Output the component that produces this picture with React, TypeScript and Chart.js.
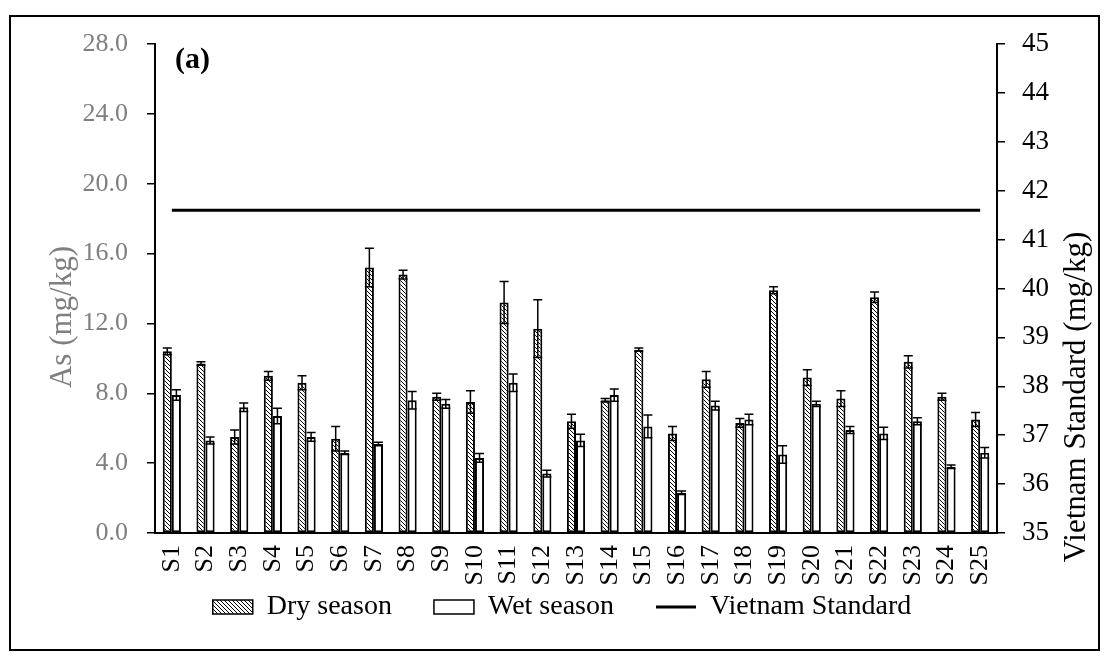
import React, { useEffect, useRef } from "react";
import { Chart, registerables } from "chart.js";

Chart.register(...registerables);

// Sampling sites
const categories = [
  "S1", "S2", "S3", "S4", "S5", "S6", "S7", "S8", "S9", "S10",
  "S11", "S12", "S13", "S14", "S15", "S16", "S17", "S18", "S19", "S20",
  "S21", "S22", "S23", "S24", "S25",
];

// Arsenic in sediment, mg/kg (mean and error)
const drySeason = [
  10.4, 9.7, 5.5, 9.0, 8.6, 5.4, 15.2, 14.8, 7.8, 7.5,
  13.2, 11.7, 6.4, 7.6, 10.5, 5.7, 8.8, 6.3, 13.9, 8.9,
  7.7, 13.5, 9.8, 7.8, 6.5,
];
const dryError = [
  0.2, 0.1, 0.4, 0.25, 0.4, 0.7, 1.1, 0.25, 0.2, 0.65,
  1.2, 1.65, 0.4, 0.1, 0.1, 0.4, 0.45, 0.25, 0.2, 0.45,
  0.45, 0.3, 0.35, 0.2, 0.4,
];
const wetSeason = [
  7.9, 5.3, 7.2, 6.7, 5.5, 4.6, 5.1, 7.6, 7.4, 4.3,
  8.6, 3.4, 5.3, 7.9, 6.1, 2.3, 7.3, 6.5, 4.5, 7.4,
  5.9, 5.7, 6.4, 3.8, 4.6,
];
const wetError = [
  0.3, 0.2, 0.25, 0.45, 0.25, 0.1, 0.1, 0.5, 0.25, 0.25,
  0.5, 0.2, 0.35, 0.35, 0.65, 0.1, 0.25, 0.3, 0.5, 0.15,
  0.2, 0.35, 0.2, 0.1, 0.3,
];

// National sediment guideline (right axis), mg/kg
const vietnamStandard = [
  41.6, 41.6, 41.6, 41.6, 41.6, 41.6, 41.6, 41.6, 41.6, 41.6,
  41.6, 41.6, 41.6, 41.6, 41.6, 41.6, 41.6, 41.6, 41.6, 41.6,
  41.6, 41.6, 41.6, 41.6, 41.6,
];

const seriesLabels = ["Dry season", "Wet season", "Vietnam Standard"];
const leftTitle = "As (mg/kg)";
const rightTitle = "Vietnam Standard (mg/kg)";
const panelTag = "(a)";

const FONT = "'Liberation Serif', 'Times New Roman', serif";
const GREY = "#7f7f7f";

function makeHatch(): CanvasPattern | string {
  const c = document.createElement("canvas");
  c.width = 4;
  c.height = 4;
  const g = c.getContext("2d");
  if (!g) return "#888";
  g.fillStyle = "#fff";
  g.fillRect(0, 0, 4, 4);
  g.strokeStyle = "#000";
  g.lineWidth = 1;
  g.beginPath();
  g.moveTo(0, 0);
  g.lineTo(4, 4);
  g.moveTo(-1, 3);
  g.lineTo(1, 5);
  g.moveTo(3, -1);
  g.lineTo(5, 1);
  g.stroke();
  return g.createPattern(c, "repeat") || "#888";
}

// Draws mean ± error whiskers on top of each bar
const errorBarPlugin = {
  id: "errorBars",
  afterDatasetsDraw(chart: any) {
    const ctx = chart.ctx;
    const yScale = chart.scales.y;
    const sets: [number, number[], number[]][] = [
      [0, drySeason, dryError],
      [1, wetSeason, wetError],
    ];
    ctx.save();
    ctx.strokeStyle = "#000";
    ctx.lineWidth = 1.5;
    sets.forEach(([idx, vals, errs]) => {
      const meta = chart.getDatasetMeta(idx);
      meta.data.forEach((bar: any, j: number) => {
        const x = bar.x;
        const top = yScale.getPixelForValue(vals[j] + errs[j]);
        const bot = yScale.getPixelForValue(vals[j] - errs[j]);
        const hw = 4.5;
        ctx.beginPath();
        ctx.moveTo(x, top);
        ctx.lineTo(x, bot);
        ctx.moveTo(x - hw, top);
        ctx.lineTo(x + hw, top);
        ctx.moveTo(x - hw, bot);
        ctx.lineTo(x + hw, bot);
        ctx.stroke();
      });
    });
    ctx.restore();
  },
};

// The legend keeps wide item spacing, which also pads its top; pull it up
const legendLift = {
  id: "legendLift",
  afterLayout(chart: any) {
    const lg = chart.legend;
    if (lg) {
      lg.top -= 40;
      lg.bottom -= 40;
    }
  },
};

// Axis titles (both reading bottom-to-top) and the panel tag
const annotationPlugin = {
  id: "annotations",
  afterDraw(chart: any) {
    const { ctx, chartArea } = chart;
    ctx.save();
    ctx.textAlign = "center";
    ctx.textBaseline = "middle";

    ctx.font = `31px ${FONT}`;
    ctx.fillStyle = GREY;
    ctx.save();
    ctx.translate(chartArea.left - 92, chartArea.top + 273);
    ctx.rotate(-Math.PI / 2);
    ctx.fillText(leftTitle, 0, 0);
    ctx.restore();

    ctx.fillStyle = "#000";
    ctx.save();
    ctx.translate(chartArea.right + 80, chartArea.top + 353);
    ctx.rotate(-Math.PI / 2);
    ctx.fillText(rightTitle, 0, 0);
    ctx.restore();

    ctx.font = `bold 30px ${FONT}`;
    ctx.textAlign = "left";
    ctx.fillText(panelTag, chartArea.left + 20, chartArea.top + 16);
    ctx.restore();
  },
};

export default function App() {
  const canvasRef = useRef<HTMLCanvasElement | null>(null);

  useEffect(() => {
    if (!canvasRef.current) return;
    const hatch = makeHatch();

    const chart = new Chart(canvasRef.current, {
      type: "bar",
      data: {
        labels: categories,
        datasets: [
          {
            label: seriesLabels[0],
            data: drySeason,
            backgroundColor: hatch as any,
            borderColor: "#000",
            borderWidth: 2,
            borderSkipped: false,
            yAxisID: "y",
            categoryPercentage: 0.54,
            barPercentage: 1,
          },
          {
            label: seriesLabels[1],
            data: wetSeason,
            backgroundColor: "#fff",
            borderColor: "#000",
            borderWidth: 2,
            borderSkipped: false,
            yAxisID: "y",
            categoryPercentage: 0.54,
            barPercentage: 1,
          },
          {
            type: "line",
            label: seriesLabels[2],
            data: vietnamStandard,
            borderColor: "#000",
            backgroundColor: "#000",
            borderWidth: 3,
            pointRadius: 0,
            yAxisID: "y1",
          } as any,
        ],
      },
      options: {
        animation: false,
        responsive: false,
        layout: { padding: { left: 30, right: 14, top: 36, bottom: -17 } },
        plugins: {
          tooltip: { enabled: false },
          legend: {
            position: "bottom",
            labels: {
              usePointStyle: true,
              pointStyleWidth: 40,
              boxHeight: 14,
              padding: 42,
              color: "#000",
              font: { family: FONT, size: 28 },
              generateLabels: (c: any) =>
                c.data.datasets.map((ds: any, i: number) => ({
                  text: ds.label,
                  fillStyle: i === 2 ? "#000" : ds.backgroundColor,
                  strokeStyle: "#000",
                  lineWidth: i === 2 ? 3 : 1.5,
                  pointStyle: i === 2 ? "line" : "rect",
                  hidden: false,
                  datasetIndex: i,
                })),
            },
          },
        },
        scales: {
          x: {
            grid: { display: false, drawTicks: false },
            border: { display: true, color: "#000", width: 2 },
            ticks: {
              autoSkip: false,
              maxRotation: 90,
              minRotation: 90,
              padding: 12,
              color: "#000",
              font: { family: FONT, size: 26 },
            },
            afterFit: (s: any) => {
              s.height = 58;
            },
          },
          y: {
            position: "left",
            min: 0,
            max: 28,
            ticks: {
              stepSize: 4,
              padding: 19,
              color: GREY,
              font: { family: FONT, size: 26 },
              callback: (v: any) => Number(v).toFixed(1),
            },
            grid: {
              display: true,
              drawOnChartArea: false,
              drawTicks: true,
              tickLength: 8,
              color: "#000",
              lineWidth: 1.5,
            },
            border: { display: true, color: "#000", width: 2 },
            afterFit: (s: any) => {
              s.width = 117;
            },
          },
          y1: {
            position: "right",
            min: 35,
            max: 45,
            ticks: {
              stepSize: 1,
              padding: 17,
              color: "#000",
              font: { family: FONT, size: 27 },
            },
            grid: {
              display: true,
              drawOnChartArea: false,
              drawTicks: true,
              tickLength: 8,
              color: "#000",
              lineWidth: 1.5,
            },
            border: { display: true, color: "#000", width: 2 },
            afterFit: (s: any) => {
              s.width = 89;
            },
          },
        },
      },
      plugins: [errorBarPlugin, legendLift, annotationPlugin],
    });

    return () => chart.destroy();
  }, []);

  return (
    <div style={{ position: "relative", width: 1092, height: 646 }}>
      <canvas ref={canvasRef} width={1092} height={646} style={{ display: "block" }} />
      <div
        style={{
          position: "absolute",
          left: 1,
          top: 7,
          width: 1091,
          height: 636,
          border: "2px solid #000",
          boxSizing: "border-box",
          pointerEvents: "none",
        }}
      />
    </div>
  );
}
